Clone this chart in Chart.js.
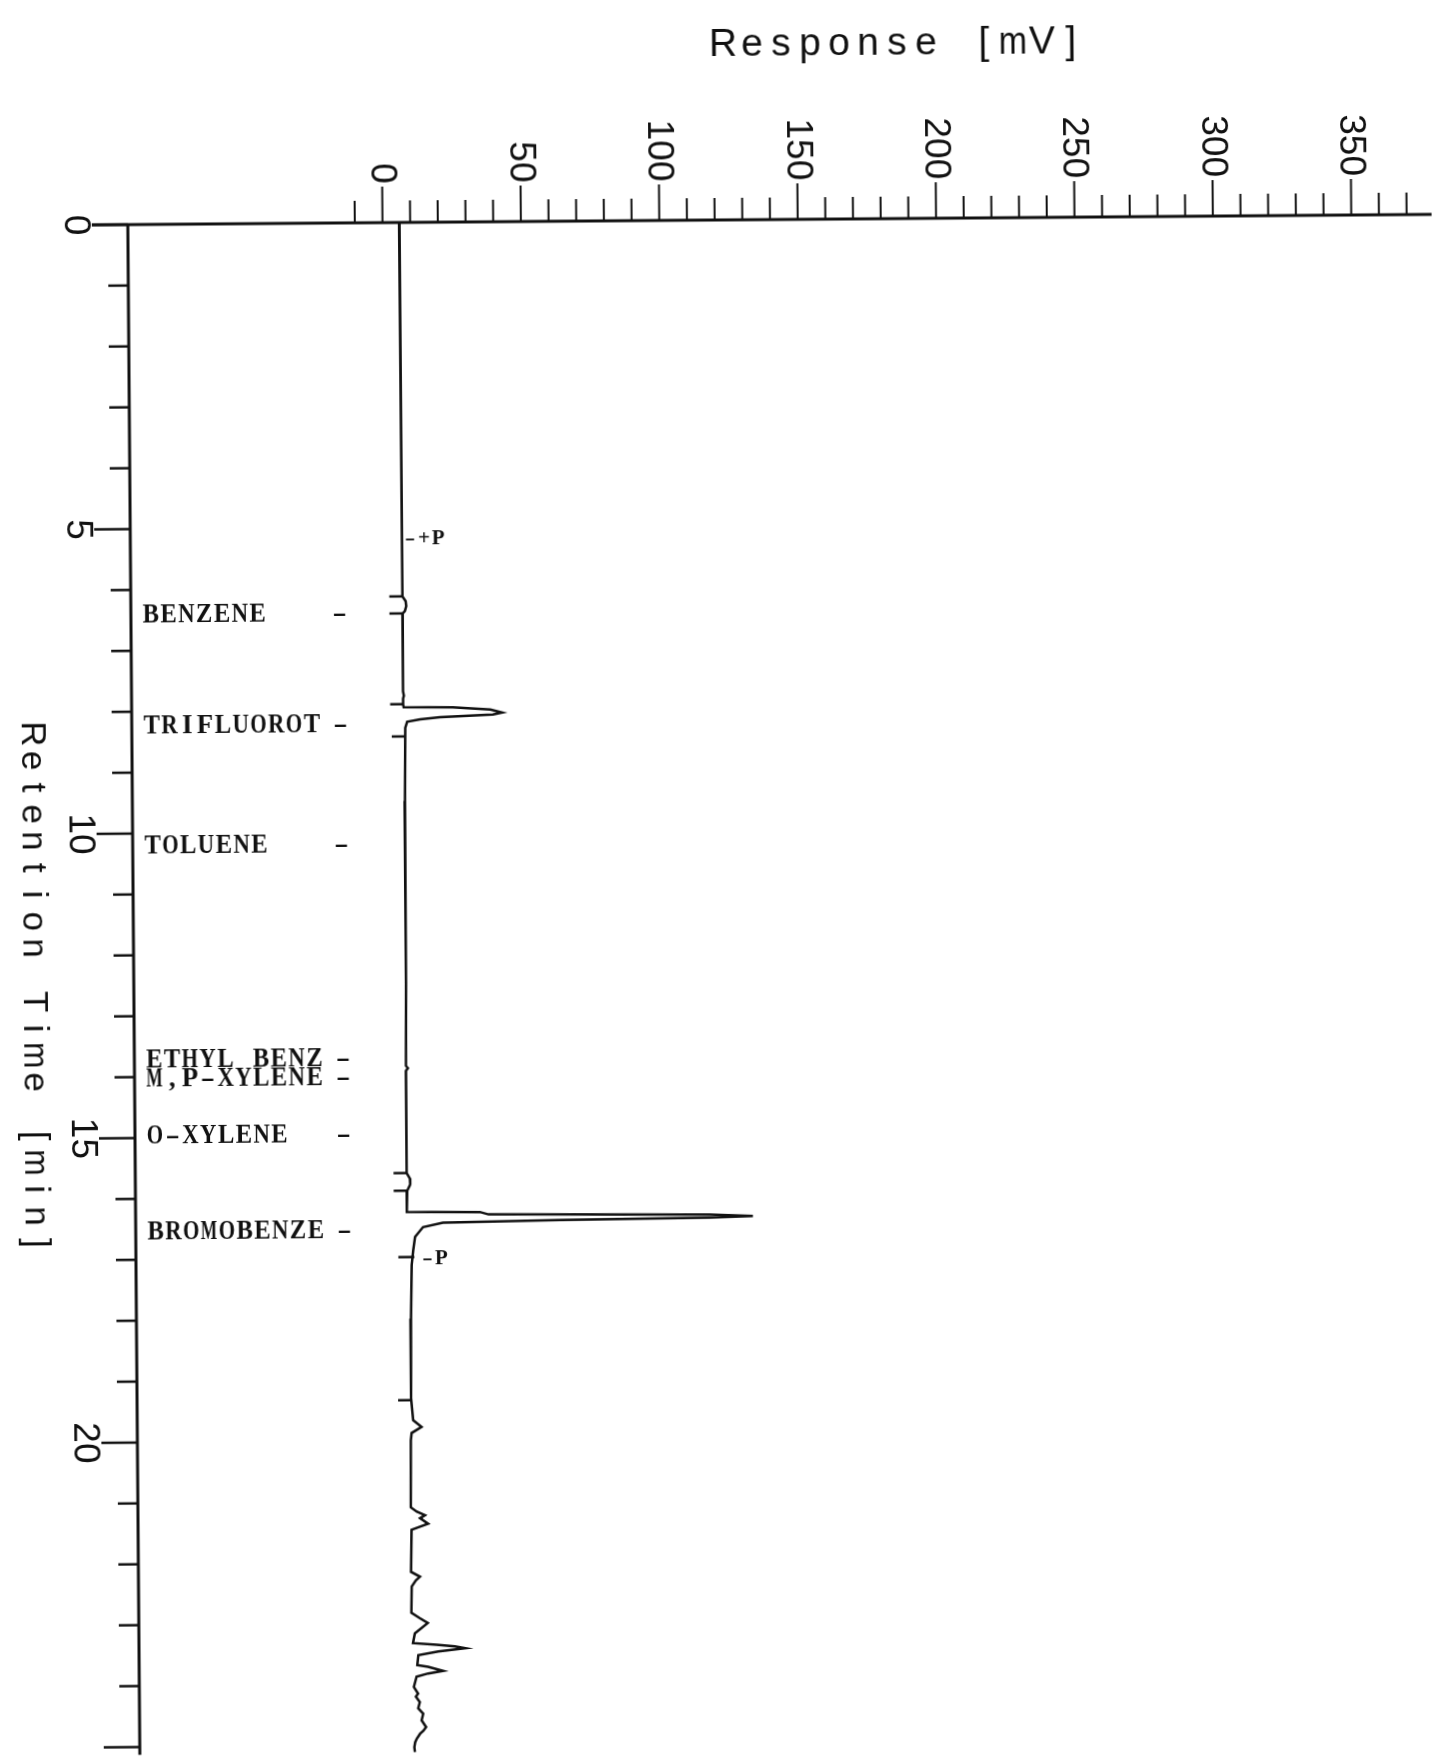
<!DOCTYPE html>
<html>
<head>
<meta charset="utf-8">
<title>Chromatogram</title>
<script src="https://cdn.jsdelivr.net/npm/chart.js@4.4.1/dist/chart.umd.min.js"></script>
<style>
  html, body { margin: 0; padding: 0; background: #fff; overflow: hidden; }
  /* the original is a slightly skewed scan */
  #chromatogram { display: block; transform: rotate(-0.45deg); transform-origin: 50% 50%; }
</style>
</head>
<body>
<canvas id="chromatogram" width="1437" height="1764"></canvas>
<script>
// --- 1. DATA ---
const retentionTime = [
    0.00, 1.50, 3.00, 4.50, 5.17, 6.10, 6.14, 6.22, 6.30, 6.38, 6.42, 6.50,
    7.70, 7.77, 7.82, 7.92, 7.96, 7.97, 8.01, 8.06, 8.09, 8.13, 8.16, 8.20, 8.30,
    9.50, 11.00, 12.50, 13.85, 13.89, 13.93, 15.55,
    15.61, 15.70, 15.80, 15.90, 16.00, 16.25,
    16.26, 16.30, 16.33, 16.36, 16.38, 16.40, 16.43, 16.50, 16.66, 16.88, 17.12,
    18.00, 19.01, 19.31, 19.67, 19.78, 19.88, 20.00, 21.10,
    21.17, 21.23, 21.28, 21.37, 21.47, 22.16, 22.24, 22.30, 22.40, 22.83,
    22.92, 23.00, 23.17, 23.33, 23.36, 23.39, 23.42, 23.47, 23.53, 23.69,
    23.72, 23.79, 23.83, 23.88, 24.05, 24.16, 24.21, 24.30, 24.40, 24.49,
    24.60, 24.71, 24.77, 24.82, 24.90, 24.96, 25.04, 25.12
];
const responseMv = [
    6.0, 6.1, 6.1, 6.2, 6.2, 6.1, 6.2, 7.3, 7.5, 7.0, 6.2, 6.1,
    6.1, 6.4, 6.1, 6.1, 6.3, 24.0, 37.6, 41.8, 38.5, 19.4, 12.2, 7.5, 6.8,
    6.5, 6.4, 6.3, 6.1, 6.8, 6.1, 6.0,
    6.1, 7.2, 7.3, 6.2, 6.0, 6.0,
    32.4, 35.5, 115.5, 131.0, 115.5, 61.3, 19.0, 11.8, 8.9, 8.2, 7.6,
    7.2, 7.0, 7.0, 7.7, 10.7, 7.1, 6.8, 6.6,
    8.7, 11.7, 9.9, 12.8, 6.8, 6.5, 9.7, 8.2, 6.7, 6.5,
    9.5, 12.4, 7.7, 7.0, 15.5, 22.1, 25.8, 16.1, 8.9, 8.5,
    12.4, 17.8, 12.4, 8.2, 7.2, 8.7, 7.9, 9.3, 8.7, 10.5,
    9.9, 11.5, 10.5, 9.3, 8.1, 7.5, 7.2, 7.4
];

const responseTicks = [0, 50, 100, 150, 200, 250, 300, 350];
const timeTicks = [0, 5, 10, 15, 20];

const compoundNames = ['BENZENE', 'TRIFLUOROT', 'TOLUENE', 'ETHYL BENZ', 'M,P-XYLENE', 'O-XYLENE', 'BROMOBENZE'];
const compoundTimes = [6.39, 8.21, 10.18, 13.69, 14.00, 14.94, 16.52];

// integration marks (peak start / end) on the left of the trace
const markTimes = [6.14, 6.42, 7.91, 8.44, 15.61, 15.90, 16.99, 19.34];
const markLevels = [6.1, 6.1, 6.1, 6.6, 6.0, 6.0, 7.5, 7.0];

const flagTexts = ['-+P', '-P'];
const flagTimes = [5.17, 16.99];
const flagLevels = [6.2, 7.5];

const ink = '#111';

// --- 2. HELPERS ---
function line(ctx, x1, y1, x2, y2) {
    ctx.beginPath();
    ctx.moveTo(x1, y1);
    ctx.lineTo(x2, y2);
    ctx.stroke();
}

// plotter / typewriter look: every char in a fixed-width cell
// (typewriter hyphens are wider than the serif ones, so they get stretched;
//  a trailing pointer dash can be nudged sideways)
function drawMono(ctx, text, x, y, advance, squeeze, dashStretch, tailShift) {
    for (let i = 0; i < text.length; i++) {
        const ch = text[i];
        if (ch === ' ') continue;
        const w = ctx.measureText(ch).width;
        let sx = squeeze ? Math.min(1, advance * squeeze / w) : 1;
        let cx = x + i * advance + advance / 2;
        if (ch === '-' && dashStretch) sx = dashStretch;
        if (ch === '-' && i === text.length - 1 && tailShift) cx += tailShift;
        ctx.save();
        ctx.translate(cx, y);
        ctx.scale(sx, 1);
        ctx.fillText(ch, -w / 2, 0);
        ctx.restore();
    }
}

// --- 3. AXES, LABELS, ANNOTATIONS ---
const framePlugin = {
    id: 'chromFrame',
    afterDatasetsDraw(chart) {
        const { ctx, chartArea: area, scales: { x, y } } = chart;
        const axisY = area.top;
        const axisX = area.left;
        ctx.save();
        ctx.strokeStyle = ink;
        ctx.fillStyle = ink;
        ctx.textAlign = 'left';
        ctx.textBaseline = 'alphabetic';

        // axis lines
        ctx.lineWidth = 3;
        line(ctx, axisX - 36, axisY, chart.width, axisY);
        line(ctx, axisX, axisY, axisX, y.getPixelForValue(25.13));

        // response ticks (every 10 mV, long every 50)
        ctx.lineWidth = 2;
        for (let v = -10; v <= 380; v += 10) {
            const px = x.getPixelForValue(v);
            if (px > chart.width) break;
            const len = v % 50 === 0 ? 36 : 22;
            line(ctx, px, axisY, px, axisY - len);
        }
        // retention ticks (every minute, long every 5)
        ctx.lineWidth = 2.5;
        for (let t = 0; t <= 25; t++) {
            const py = y.getPixelForValue(t);
            const len = t % 5 === 0 ? 36 : 20;
            line(ctx, axisX - len, py, axisX, py);
        }

        // tick labels, turned a quarter clockwise
        const cap = 26.5;
        ctx.font = '37px "Liberation Sans"';
        responseTicks.forEach(v => {
            const px = x.getPixelForValue(v);
            ctx.save();
            ctx.translate(px + 3 - cap / 2, axisY - 39);
            ctx.rotate(Math.PI / 2);
            ctx.textAlign = 'right';
            ctx.fillText(String(v), 0, 0);
            ctx.restore();
        });
        timeTicks.forEach(t => {
            const py = y.getPixelForValue(t);
            ctx.save();
            ctx.translate(axisX - 37 - cap, py);
            ctx.rotate(Math.PI / 2);
            ctx.textAlign = 'center';
            ctx.fillText(String(t), 0, 0);
            ctx.restore();
        });

        // axis titles
        ctx.font = '39px "Liberation Sans"';
        drawMono(ctx, 'Response [mV]', 715, 56, 29, 0.98);
        ctx.font = '35px "Liberation Sans"';
        ctx.save();
        ctx.translate(23, 715);
        ctx.rotate(Math.PI / 2);
        drawMono(ctx, 'Retention Time [min]', 0, 0, 26.8, 0.98);
        ctx.restore();

        // compound names with their pointer dash
        ctx.font = 'bold 27px "Liberation Serif"';
        compoundNames.forEach((name, i) => {
            const py = y.getPixelForValue(compoundTimes[i]);
            drawMono(ctx, name.padEnd(11) + '-', axisX + 11, py + 9, 17.8, 0.92, 1.6, -7);
        });

        // integration marks
        ctx.lineWidth = 2.5;
        markTimes.forEach((t, i) => {
            const px = x.getPixelForValue(markLevels[i]);
            const py = y.getPixelForValue(t);
            line(ctx, px - 13, py, px + (t === flagTimes[1] ? 3 : 0), py);
        });

        // +P / -P flags
        ctx.font = 'bold 21px "Liberation Serif"';
        flagTexts.forEach((txt, i) => {
            const px = x.getPixelForValue(flagLevels[i]);
            const py = y.getPixelForValue(flagTimes[i]);
            const start = txt.startsWith('-+') ? px + 1 : px + 9;
            drawMono(ctx, txt, start, py + 7, 14, 0.95, 1.5);
        });

        ctx.restore();
    }
};

// --- 4. CHART ---
const ctx = document.getElementById('chromatogram').getContext('2d');
const chart = new Chart(ctx, {
    type: 'scatter',
    data: {
        datasets: [{
            label: 'Detector response',
            data: retentionTime.map((t, i) => ({ x: responseMv[i], y: t })),
            showLine: true,
            borderColor: ink,
            borderWidth: 2.5,
            pointRadius: 0,
            tension: 0,
            clip: false
        }]
    },
    options: {
        responsive: false,
        animation: false,
        layout: { padding: { left: 133, top: 220, right: 0, bottom: 21.6 } },
        scales: {
            x: { type: 'linear', min: -92.0, max: 379.1, display: false },
            y: { type: 'linear', min: 0, max: 25, reverse: true, display: false }
        },
        plugins: {
            legend: { display: false },
            tooltip: { enabled: false }
        }
    },
    plugins: [framePlugin]
});
</script>
</body>
</html>
